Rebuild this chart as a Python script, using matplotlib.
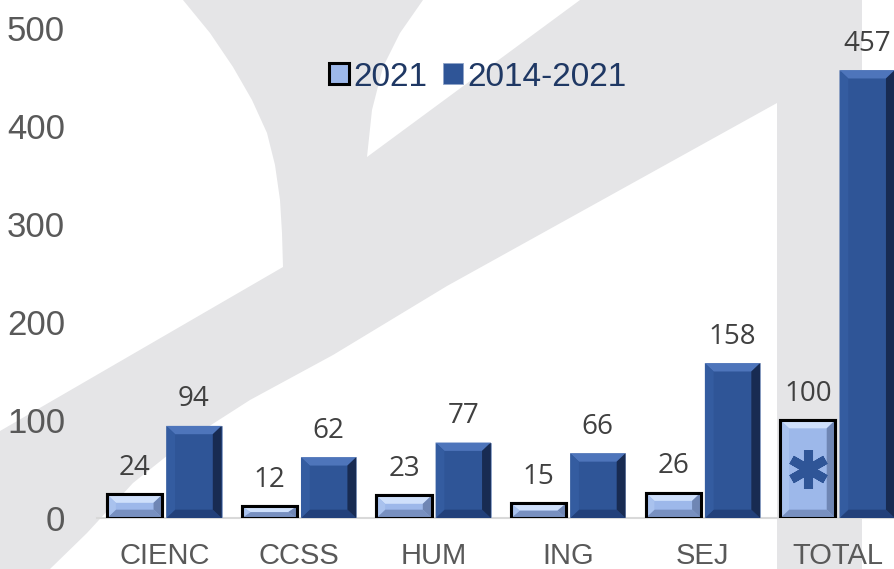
import matplotlib.pyplot as plt
import matplotlib.patches as patches
import numpy as np

categories = ['CIENC', 'CCSS', 'HUM', 'ING', 'SEJ', 'TOTAL']
values_2021 = [24, 12, 23, 15, 26, 100]
values_2014_2021 = [94, 62, 77, 66, 158, 457]
yticks = [0, 100, 200, 300, 400, 500]

W, H = 895, 569
fig = plt.figure(figsize=(W / 100, H / 100), dpi=100)
fig.patch.set_facecolor('#E5E5E7')

SANS = ['Liberation Sans', 'DejaVu Sans']


def px(pts):
    # pixel coords (from top-left) to figure fraction
    return [(x / W, 1 - y / H) for x, y in pts]


# white parts of the watermark logo
white_shapes = [
    [(0, 0), (183, 0), (210, 33), (233, 67), (252, 100), (267, 133), (275, 165),
     (280, 200), (282, 233), (283, 267), (0, 431)],
    [(423, 0), (580, 0), (367, 157), (372, 110), (383, 67), (400, 33)],
    [(777, 103), (447, 286), (333, 355), (250, 400), (183, 443), (133, 483),
     (87, 533), (50, 569), (777, 569)],
    [(862, 0), (895, 0), (895, 569), (862, 569)],
]
for shp in white_shapes:
    fig.patches.append(patches.Polygon(px(shp), closed=True, transform=fig.transFigure,
                                       facecolor='white', edgecolor='none', zorder=-5))

ax = fig.add_axes([97 / W, 1 - 518 / H, 1 - 97 / W, 490 / H])
ax.set_facecolor('none')

x = np.arange(len(categories))
bw = 0.41
off = 0.22

light = dict(face='#9DB8EA', top='#CFE0FB', bottom='#7890C0', left='#A9C2EE', right='#6F86B4')
dark = dict(face='#2F5597', top='#4E75BB', bottom='#22407A', left='#345CA0', right='#182B52')

b1 = ax.bar(x - off, values_2021, bw, color=light['face'], edgecolor='black',
            linewidth=2.2, label='2021', zorder=3)
b2 = ax.bar(x + off, values_2014_2021, bw, color=dark['face'], edgecolor='#8FA4C8',
            linewidth=0.6, label='2014-2021', zorder=3)


def bevel(bar, cols, z):
    x0, w, h = bar.get_x(), bar.get_width(), bar.get_height()
    dx = min(0.065, w / 2)
    dy = min(8.5, h / 2)
    x1 = x0 + w
    polys = [
        ([(x0, h), (x1, h), (x1 - dx, h - dy), (x0 + dx, h - dy)], cols['top']),
        ([(x0, 0), (x1, 0), (x1 - dx, dy), (x0 + dx, dy)], cols['bottom']),
        ([(x0, 0), (x0 + dx, dy), (x0 + dx, h - dy), (x0, h)], cols['left']),
        ([(x1, 0), (x1 - dx, dy), (x1 - dx, h - dy), (x1, h)], cols['right']),
    ]
    for pts, c in polys:
        ax.add_patch(patches.Polygon(pts, closed=True, facecolor=c, edgecolor='none', zorder=z))


for bar in b1:
    bevel(bar, light, 3.5)
    # redraw black border on top
    ax.add_patch(patches.Rectangle((bar.get_x(), 0), bar.get_width(), bar.get_height(),
                                   fill=False, edgecolor='black', linewidth=2.2, zorder=4))
for bar in b2:
    bevel(bar, dark, 3.5)

# data labels
for bars in (b1, b2):
    for bar in bars:
        h = bar.get_height()
        ax.annotate(f'{h:g}', (bar.get_x() + bar.get_width() / 2, h),
                    xytext=(0, 14), textcoords='offset points', ha='center', va='baseline',
                    fontsize=20, color='#404040', family=['Open Sans', 'DejaVu Sans'], zorder=5)

# asterisk on the TOTAL 2021 bar
ax.plot(x[-1] - off, values_2021[-1] / 2, marker=(6, 2, 0), ms=28, mew=6.5,
        color='#2F5597', zorder=6)

ax.set_xlim(-0.5, (W - 164.5) / 134.6)
ax.set_ylim(0, 500)
ax.set_xticks(x)
ax.set_xticklabels(categories, fontsize=21, color='#595959', family=SANS)
ax.set_yticks(yticks)
ax.set_yticklabels([str(v) for v in yticks], fontsize=25, color='#595959', family=SANS)
ax.tick_params(axis='x', length=0, pad=17)
ax.tick_params(axis='y', length=0, pad=23)
for s in ('top', 'right', 'left'):
    ax.spines[s].set_visible(False)
ax.spines['bottom'].set_color('#D9D9D9')
ax.spines['bottom'].set_linewidth(1.5)
ax.spines['bottom'].set_zorder(2)

leg = fig.legend(handles=[b1, b2], loc='center', bbox_to_anchor=(478 / W, 1 - 77 / H),
                 ncol=2, frameon=False, handlelength=0.6, handleheight=0.6,
                 handletextpad=0.15, columnspacing=0.45,
                 prop={'family': SANS, 'size': 24})
for t in leg.get_texts():
    t.set_color('#1F3864')

fig.savefig('out.png', dpi=100, facecolor=fig.get_facecolor())
